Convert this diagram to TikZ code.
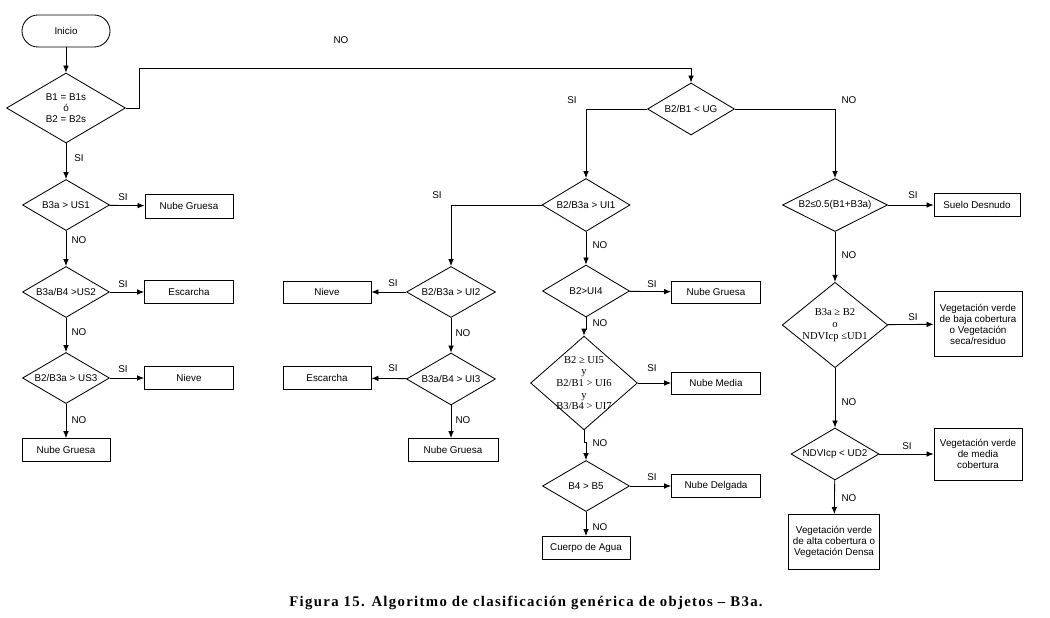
\documentclass[tikz,border=0pt]{standalone}
\usepackage{fontspec}
\setmainfont{Liberation Sans}
\newfontfamily\timesfont{Liberation Serif}
\newfontfamily\capfont[LetterSpace=9]{Liberation Serif}
\usetikzlibrary{shapes.geometric,arrows.meta}

\tikzset{
	every node/.style={font=\fontsize{7}{7.8}\selectfont},
	cond/.style 2 args={draw, diamond, inner sep=0pt, align=center, line width=0.6pt, /utils/exec={\pgfmathsetmacro\condasp{#1/#2}}, aspect=\condasp, minimum width=#1*0.025cm, minimum height=#2*0.025cm},
	box/.style 2 args={draw, rectangle, inner sep=0pt, align=center, line width=0.6pt, minimum width=#1*0.025cm, minimum height=#2*0.025cm},
	term/.style={draw, rectangle, rounded corners=0.4cm, line width=0.6pt, minimum width=2.2cm, minimum height=0.8cm},
	serif/.style={font=\timesfont\fontsize{7.5}{8.3}\selectfont},
	flow/.style={line width=0.6pt, -{Latex[length=5pt,width=4pt]}},
	lbl/.style={inner sep=0pt},
}

\begin{document}
\begin{tikzpicture}[x=0.025cm, y=-0.025cm]
		%%%%% START %%%%%
		\useasboundingbox (0, 0) rectangle (1050, 617);
		
		\node[term] (inicio) at (66, 31) {Inicio};
		\node[cond={119}{70}] (b1) at (66, 108) {B1 = B1s\\ó\\B2 = B2s};
		
		\node[cond={87}{51}] (us1) at (66, 205) {B3a > US1};
		\node[box={88}{24}] (gruesa1) at (189, 206) {Nube Gruesa};
		\node[cond={87}{51}] (us2) at (66, 292) {B3a/B4 >US2};
		\node[box={89}{23}] (escarcha1) at (189, 292) {Escarcha};
		\node[cond={87}{51}] (us3) at (66, 378) {B2/B3a > US3};
		\node[box={89}{23}] (nieve1) at (189, 378) {Nieve};
		\node[box={88}{23}] (gruesa2) at (66, 450) {Nube Gruesa};
		
		\node[cond={87}{52}] (ug) at (691, 109) {B2/B1 < UG};
		
		\node[cond={88}{53}] (ui1) at (586, 205) {B2/B3a > UI1};
		\node[cond={89}{51}] (ui2) at (451, 292) {B2/B3a > UI2};
		\node[box={88}{22}] (nieve2) at (327, 292) {Nieve};
		\node[cond={89}{52}] (ui3) at (451, 379) {B3a/B4 > UI3};
		\node[box={88}{23}] (escarcha2) at (327, 378) {Escarcha};
		\node[box={90}{23}] (gruesa3) at (453, 450) {Nube Gruesa};
		
		\node[cond={87}{52}] (ui4) at (586, 291) {B2>UI4};
		\node[box={89}{22}] (gruesa4) at (716, 292) {Nube Gruesa};
		\node[cond={106}{93}, serif, inner sep=-1.6pt] (ui5) at (584, 383) {B2 ≥ UI5\\y\\B2/B1 > UI6\\y\\B3/B4 > UI7};
		\node[box={89}{22}] (media) at (716, 383) {Nube Media};
		\node[cond={87}{51}] (b5) at (586, 486) {B4 > B5};
		\node[box={89}{23}] (delgada) at (716, 486) {Nube Delgada};
		\node[box={88}{23}] (agua) at (586, 548) {Cuerpo de Agua};
		
		\node[cond={105}{53}] (ud0) at (835, 205) {B2≤0.5(B1+B3a)};
		\node[box={86}{23}] (suelo) at (977, 205) {Suelo Desnudo};
		\node[cond={105}{85}, serif] (ud1) at (835, 325) {B3a ≥ B2\\o\\NDVIcp ≤UD1};
		\node[box={88}{65}] (baja) at (978, 324) {Vegetación verde\\de baja cobertura\\o Vegetación\\seca/residuo};
		\node[cond={88}{52}] (ud2) at (835, 454) {NDVIcp < UD2};
		\node[box={88}{52}] (mediav) at (978, 454) {Vegetación verde\\de media\\cobertura};
		\node[box={91}{55}] (alta) at (834, 542) {Vegetación verde\\de alta cobertura o\\Vegetación Densa};
		
		% connectors
		\draw[flow] (inicio) -- (b1);
		\draw[flow] (b1.east) -- ++(13, 0) |- ([yshift=0.35cm]ug.north) -- (ug.north);
		\draw[flow] (b1) -- (us1);
		\draw[flow] (us1) -- (gruesa1);
		\draw[flow] (us1) -- (us2);
		\draw[flow] (us2) -- (escarcha1);
		\draw[flow] (us2) -- (us3);
		\draw[flow] (us3) -- (nieve1);
		\draw[flow] (us3) -- (gruesa2);
		
		\draw[flow] (ug.west) -| (ui1.north);
		\draw[flow] (ug.east) -| (ud0.north);
		
		\draw[flow] (ui1.west) -| (ui2.north);
		\draw[flow] (ui2) -- (nieve2);
		\draw[flow] (ui2) -- (ui3);
		\draw[flow] (ui3) -- (escarcha2);
		\draw[flow] (ui3.south) -- (ui3.south |- gruesa3.north);
		
		\draw[flow] (ui1) -- (ui4);
		\draw[flow] (ui4) -- (gruesa4);
		\draw[flow] (ui4.south) -- ++(0, 12) -| (ui5.north);
		\draw[flow] (ui5) -- (media);
		\draw[flow] (ui5.south) -- ++(0, 12) -| (b5.north);
		\draw[flow] (b5) -- (delgada);
		\draw[flow] (b5) -- (agua);
		
		\draw[flow] (ud0) -- (suelo);
		\draw[flow] (ud0) -- (ud1);
		\draw[flow] (ud1) -- (baja);
		\draw[flow] (ud1) -- (ud2);
		\draw[flow] (ud2) -- (mediav);
		\draw[flow] (ud2) -- (alta);
		
		% labels
		\node[lbl] (no0) at (341, 40) {NO};
		\node[lbl] (si0) at (79, 158) {SI};
		\node[lbl] (si1) at (123, 197) {SI};
		\node[lbl] (no1) at (79, 240) {NO};
		\node[lbl] (si2) at (123, 284) {SI};
		\node[lbl] (no2) at (79, 332) {NO};
		\node[lbl] (si3) at (123, 369) {SI};
		\node[lbl] (no3) at (79, 420) {NO};
		
		\node[lbl] (siug) at (572, 100) {SI};
		\node[lbl] (noug) at (849, 100) {NO};
		
		\node[lbl] (siui1) at (437, 195) {SI};
		\node[lbl] (noui1) at (600, 245) {NO};
		\node[lbl] (siui2) at (393, 283) {SI};
		\node[lbl] (noui2) at (463, 333) {NO};
		\node[lbl] (siui3) at (393, 368) {SI};
		\node[lbl] (noui3) at (463, 420) {NO};
		\node[lbl] (siui4) at (652, 284) {SI};
		\node[lbl] (noui4) at (600, 323) {NO};
		\node[lbl] (siui5) at (652, 368) {SI};
		\node[lbl] (noui5) at (600, 443) {NO};
		\node[lbl] (sib5) at (652, 477) {SI};
		\node[lbl] (nob5) at (600, 527) {NO};
		
		\node[lbl] (siud0) at (913, 195) {SI};
		\node[lbl] (noud0) at (849, 255) {NO};
		\node[lbl] (siud1) at (913, 317) {SI};
		\node[lbl] (noud1) at (849, 402) {NO};
		\node[lbl] (siud2) at (907, 446) {SI};
		\node[lbl] (noud2) at (849, 498) {NO};
		
		\node[font=\capfont\bfseries\fontsize{10.5}{12}\selectfont] (caption) at (526, 603) {Figura 15. Algoritmo de clasificación genérica de objetos – B3a.};
		%%%%% END %%%%%
\end{tikzpicture}
\end{document}
